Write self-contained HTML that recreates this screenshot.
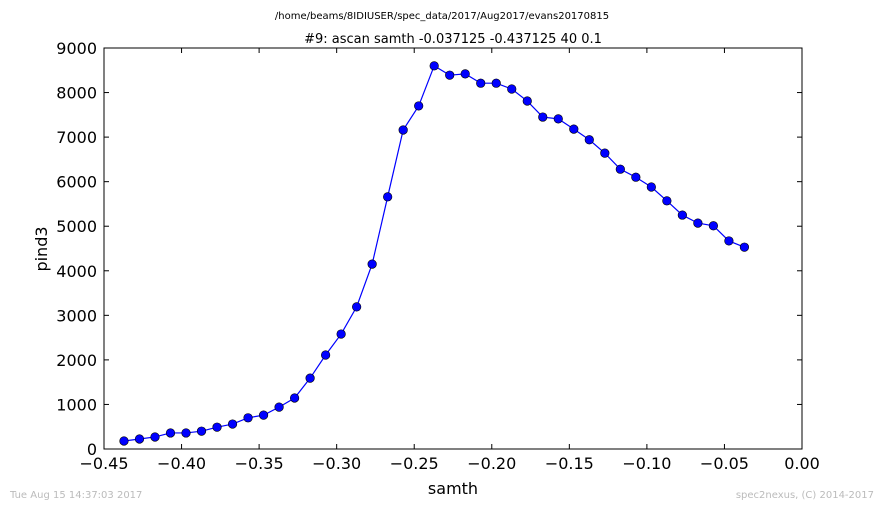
<!DOCTYPE html>
<html><head><meta charset="utf-8"><style>
body{margin:0;background:#fff;}
svg text{font-family:"DejaVu Sans","Liberation Sans",sans-serif;}
</style></head><body>
<svg width="884" height="509" xmlns="http://www.w3.org/2000/svg">
<rect width="884" height="509" fill="#fff"/>
<text x="442" y="19" font-size="10" text-anchor="middle">/home/beams/8IDIUSER/spec_data/2017/Aug2017/evans20170815</text>
<text x="453" y="43" font-size="13" text-anchor="middle">#9: ascan  samth -0.037125 -0.437125  40 0.1</text>
<g id="axes"></g>
<g id="series"></g>
<rect x="104" y="48" width="698" height="401" fill="none" stroke="#000" stroke-width="1"/>
<text x="453" y="494" font-size="16" text-anchor="middle">samth</text>
<text x="47" y="249" font-size="16" text-anchor="middle" transform="rotate(-90 47 249)">pind3</text>
<text x="10" y="498" font-size="10" fill="#bbb">Tue Aug 15 14:37:03 2017</text>
<text x="874" y="498" font-size="10" fill="#bbb" text-anchor="end">spec2nexus, (C) 2014-2017</text>
</svg>
<script>
const xTicks=[-0.45,-0.40,-0.35,-0.30,-0.25,-0.20,-0.15,-0.10,-0.05,0.00];
const xTickLabels=["\u22120.45","\u22120.40","\u22120.35","\u22120.30","\u22120.25","\u22120.20","\u22120.15","\u22120.10","\u22120.05","0.00"];
const yTicks=[0,1000,2000,3000,4000,5000,6000,7000,8000,9000];
const xStart=-0.437125;
const xStep=0.01;
const yValues=[180,225,270,360,360,400,490,560,700,760,940,1145,1590,2110,2580,3190,4150,5660,7160,7700,8600,8390,8420,8210,8210,8080,7810,7450,7410,7180,6940,6640,6280,6100,5880,5570,5250,5070,5010,4670,4530];
const NS="http://www.w3.org/2000/svg";
const L=104,R=802,T=48,B=449;
function sx(v){return L+(v+0.45)/0.45*(R-L);}
function sy(v){return B-v/9000*(B-T);}
const ax=document.getElementById('axes'),se=document.getElementById('series');
function mk(tag,at,parent){const e=document.createElementNS(NS,tag);for(const k in at)e.setAttribute(k,at[k]);parent.appendChild(e);return e;}
xTicks.forEach((t,i)=>{const x=sx(t);
 const a=mk('line',{x1:x,x2:x,y1:B,y2:B-5,stroke:'#000'},ax);
 
 
 const b=mk('line',{x1:x,x2:x,y1:T,y2:T+5,stroke:'#000'},ax);
 
 
 const tx=mk('text',{x:x,y:B+20,'font-size':16,'text-anchor':'middle'},ax);tx.textContent=xTickLabels[i];
 
 
});
yTicks.forEach(t=>{const y=sy(t);
 const a=mk('line',{x1:L,x2:L+5,y1:y,y2:y,stroke:'#000'},ax);
 
 
 const b=mk('line',{x1:R,x2:R-5,y1:y,y2:y,stroke:'#000'},ax);
 
 
 const tx=mk('text',{x:L-7,y:y+6,'font-size':16,'text-anchor':'end'},ax);tx.textContent=t;
 
 
});
const pts=yValues.map((v,i)=>[sx(xStart+i*xStep),sy(v)]);
const pl=mk('polyline',{points:pts.map(p=>p.join(',')).join(' '),fill:'none',stroke:'#0000ff','stroke-width':1.2},se);


pts.forEach(p=>{const c=mk('circle',{cx:p[0],cy:p[1],r:4.3,fill:'#0000ff',stroke:'#000','stroke-width':0.6},se);
 
 
});
</script>
</body></html>
